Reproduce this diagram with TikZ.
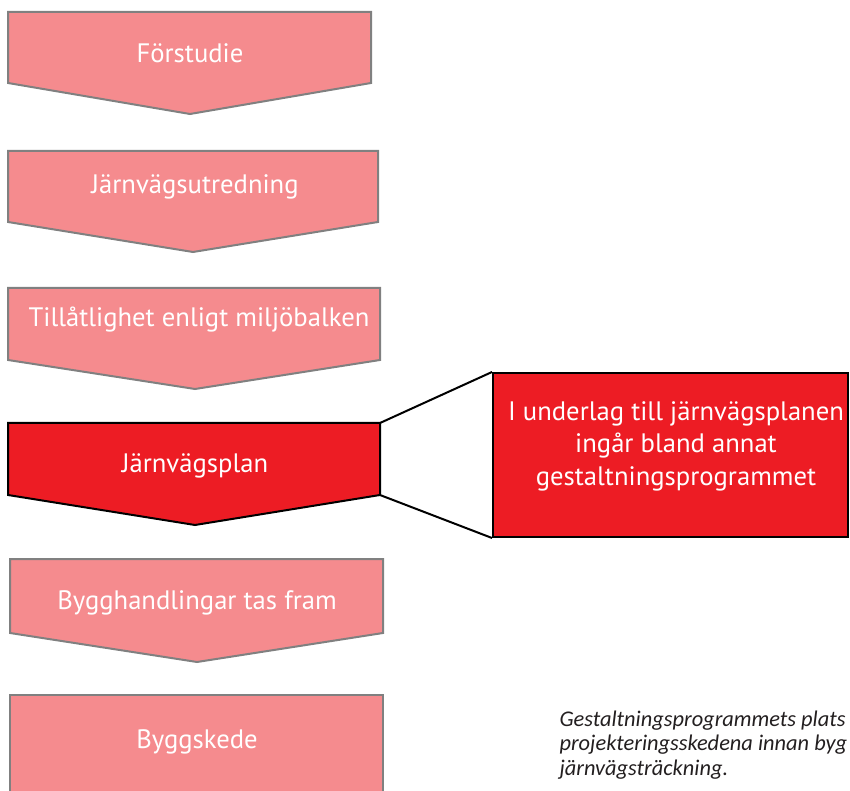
\documentclass[tikz,border=0pt]{standalone}
\usepackage{fontspec}
\setmainfont{PT Sans}
\newfontfamily\captionfont{Carlito}
\definecolor{stagepink}{RGB}{245,139,142}
\definecolor{planred}{RGB}{237,28,36}
\definecolor{stagegray}{RGB}{128,128,128}
\definecolor{captiongray}{RGB}{35,31,32}

\tikzset{every picture/.style={line width=0.75pt}}
\tikzset{
  stage/.style={draw=stagegray, fill=stagepink, line width=1.5pt},
  current/.style={draw=black, fill=planred, line width=1.5pt},
  stagetext/.style={text=white, font=\fontsize{20}{24.4}\selectfont, inner sep=0.75pt, align=center},
  captiontext/.style={text=captiongray, font=\captionfont\itshape\fontsize{16.8}{18.5}\selectfont, inner sep=0.75pt, align=left},
}

\begin{document}
\begin{tikzpicture}[x=0.75pt,y=0.75pt,yscale=-1,xscale=1]
                  \useasboundingbox (0,0) rectangle (850,791);

                  %Shape: Chevron [Förstudie]
                  \draw [stage] (8,12) -- (371,12) -- (371,83) -- (190,114) -- (8,83) -- cycle ;
                  %Shape: Chevron [Järnvägsutredning]
                  \draw [stage] (8,151) -- (378,151) -- (378,222) -- (193,252) -- (8,222) -- cycle ;
                  %Shape: Chevron [Tillåtlighet]
                  \draw [stage] (8,288) -- (380,288) -- (380,360) -- (195,389) -- (8,360) -- cycle ;
                  %Shape: Chevron [Järnvägsplan]
                  \draw [current] (8,423) -- (380,423) -- (380,495) -- (195,525) -- (8,495) -- cycle ;
                  \coordinate (planNE) at (380,423) ;
                  \coordinate (planSE) at (380,495) ;
                  %Shape: Chevron [Bygghandlingar]
                  \draw [stage] (10,559) -- (383,559) -- (383,633) -- (197,662) -- (10,633) -- cycle ;
                  %Shape: Rectangle [Byggskede]
                  \draw [stage] (10,695) -- (383,695) -- (383,805) -- (10,805) -- cycle ;

                  %Shape: Rectangle [underlag]
                  \draw (670.5,455) node [current, minimum width=266.25pt, minimum height=123pt, inner sep=0pt] (infobox) {} ;
                  %Straight Lines
                  \draw [line width=1.5pt] (planNE) -- (infobox.north west) ;
                  %Straight Lines
                  \draw [line width=1.5pt] (planSE) -- (infobox.south west) ;

                  % Text Node
                  \draw (190,53) node [stagetext] (forstudie) {Förstudie};
                  % Text Node
                  \draw (195,187) node [stagetext] (utredning) {Järnvägsutredning};
                  % Text Node
                  \draw (199,320) node [stagetext] (tillatlighet) {Tillåtlighet enligt miljöbalken};
                  % Text Node
                  \draw (195,466) node [stagetext] (plan) {Järnvägsplan};
                  % Text Node
                  \draw (197,603) node [stagetext] (bygghandlingar) {Bygghandlingar tas fram};
                  % Text Node
                  \draw (197,742) node [stagetext] (byggskede) {Byggskede};
                  % Text Node
                  \draw (676,446) node [stagetext] (infotext) {I underlag till järnvägsplanen\\ingår bland annat\\gestaltningsprogrammet};
                  % Text Node
                  \draw (558,745) node [anchor=west][captiontext] (caption) {Gestaltningsprogrammets plats\\projekteringsskedena innan byg\\järnvägsträckning.};

\end{tikzpicture}
\end{document}
